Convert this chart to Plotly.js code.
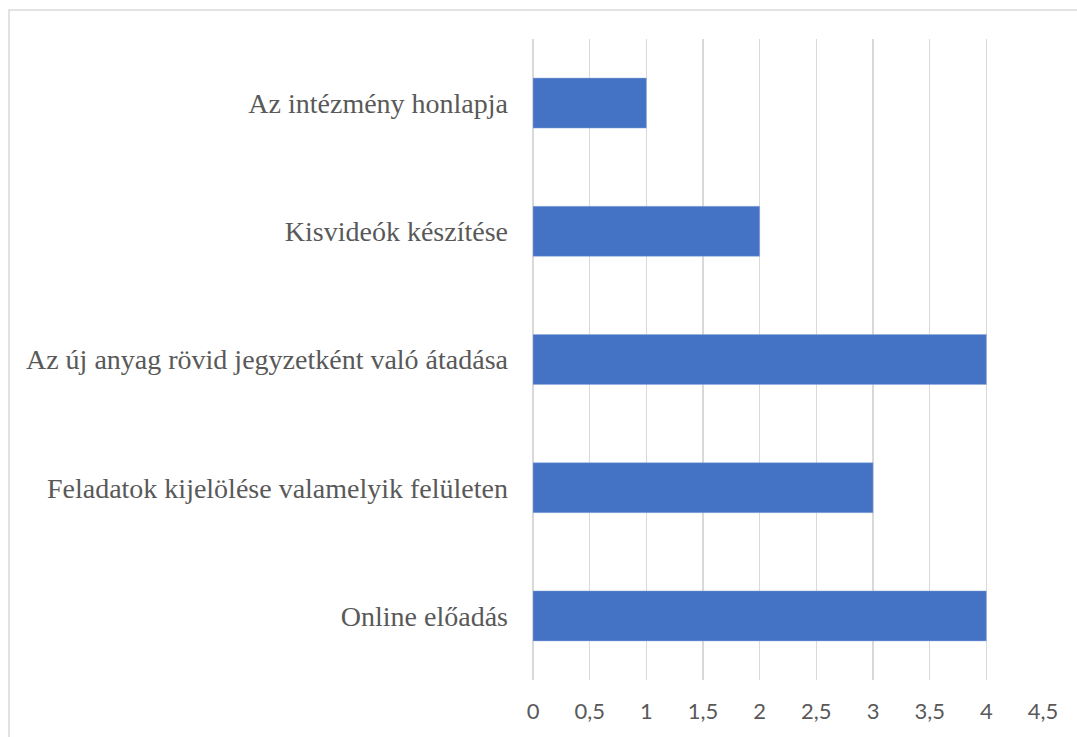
<!DOCTYPE html>
<html>
<head>
<meta charset="utf-8">
<script src="https://cdn.plot.ly/plotly-3.0.1.min.js"></script>
<style>html,body{margin:0;padding:0;background:#fff;}#chart{width:1077px;height:737px;}</style>
</head>
<body>
<div id="chart"></div>
<script>
const categories = [
  "Online előadás",
  "Feladatok kijelölése valamelyik felületen",
  "Az új anyag rövid jegyzetként való átadása",
  "Kisvideók készítése",
  "Az intézmény honlapja"
];
const values = [4, 3, 4, 2, 1];

const trace = {
  type: 'bar',
  orientation: 'h',
  y: categories,
  x: values,
  marker: {color: '#4472C4', line: {color: '#8FAADC', width: 0.5}},
  hoverinfo: 'x+y'
};

const layout = {
  width: 1077,
  height: 737,
  margin: {l: 533, r: 34, t: 39, b: 57},
  paper_bgcolor: '#ffffff',
  plot_bgcolor: '#ffffff',
  separators: ', ',
  bargap: 0.61,
  showlegend: false,
  font: {family: 'Liberation Serif', color: '#595959'},
  xaxis: {
    range: [0, 4.5],
    dtick: 0.5,
    tick0: 0,
    showgrid: true,
    gridcolor: '#D9D9D9',
    gridwidth: 1.3,
    zeroline: true,
    zerolinecolor: '#D9D9D9',
    zerolinewidth: 1.3,
    showline: false,
    ticks: '',
    ticklabelstandoff: 16,
    tickfont: {family: 'Lato', size: 22, color: '#595959'},
    fixedrange: true
  },
  yaxis: {
    type: 'category',
    categoryorder: 'array',
    categoryarray: categories,
    range: [-0.5, 4.5],
    showgrid: false,
    zeroline: false,
    showline: false,
    ticks: '',
    ticklabelstandoff: 24,
    tickfont: {family: 'Liberation Serif', size: 28, color: '#595959'},
    fixedrange: true
  },
  shapes: [{
    type: 'rect', xref: 'paper', yref: 'paper',
    x0: (9 - 533) / 510, x1: 2,
    y0: -1, y1: (680 - 10) / 641,
    line: {color: '#D9D9D9', width: 1.5},
    fillcolor: 'rgba(0,0,0,0)',
    layer: 'below'
  }]
};

Plotly.newPlot('chart', [trace], layout, {displayModeBar: false, staticPlot: true});
</script>
</body>
</html>
